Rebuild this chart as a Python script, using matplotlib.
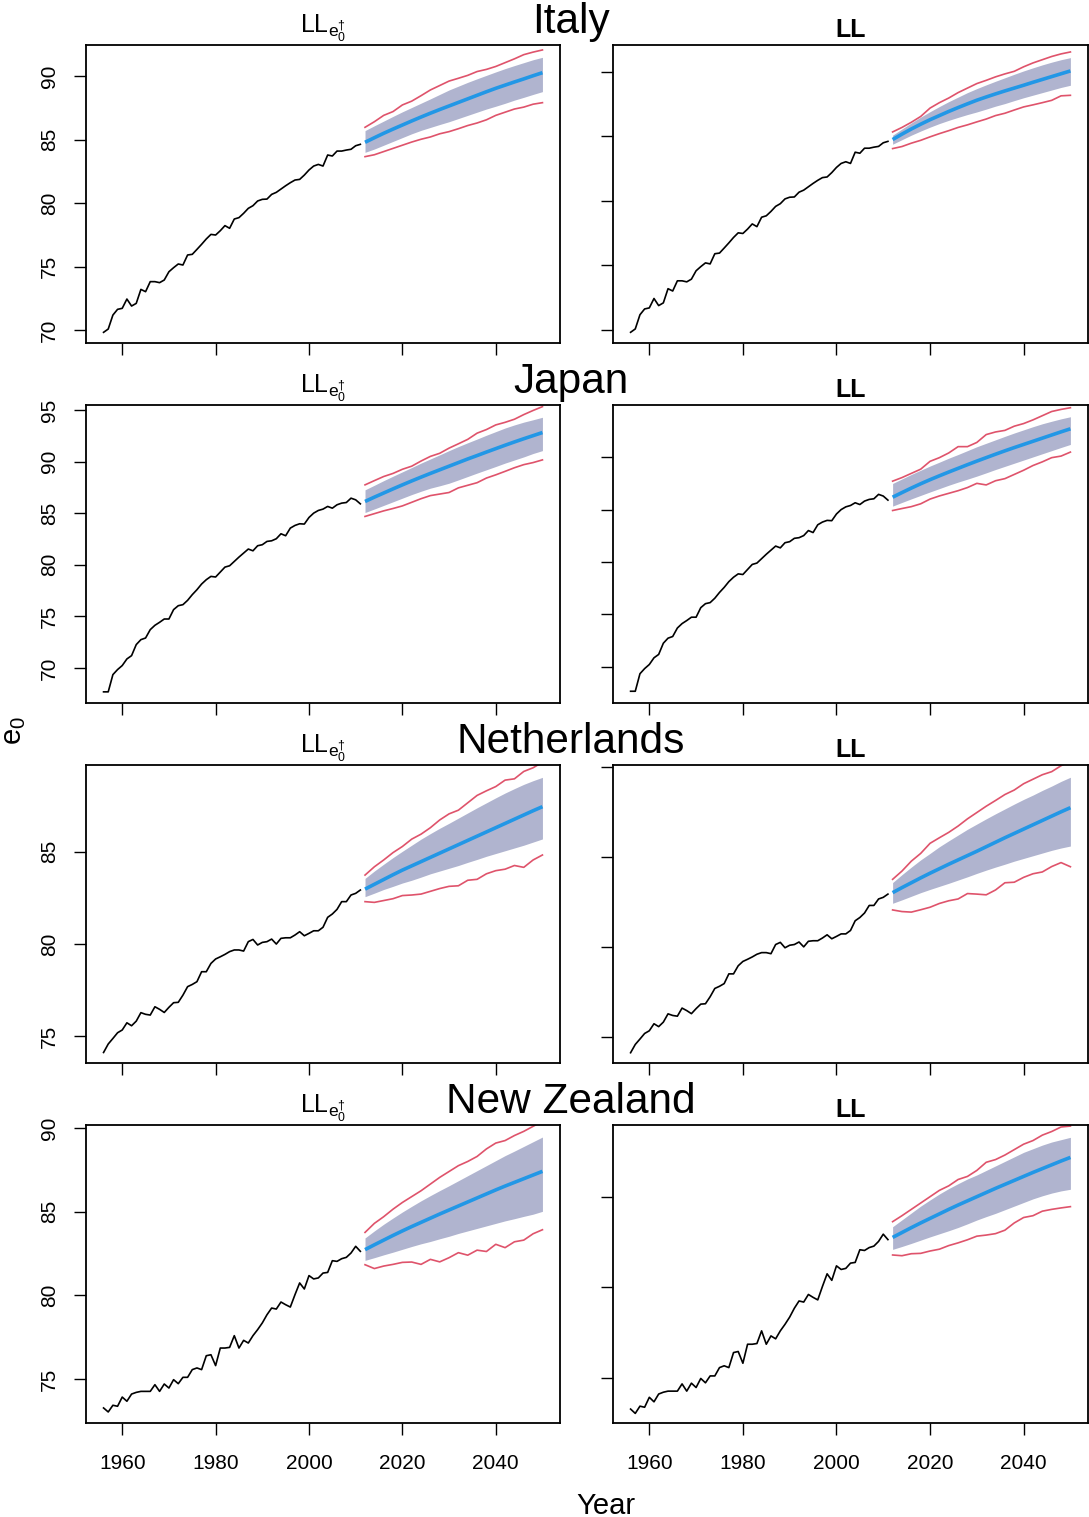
import matplotlib
matplotlib.use('Agg')
from matplotlib import pyplot as plt

plt.rcParams['font.family'] = ['Liberation Sans', 'DejaVu Sans']
plt.rcParams['mathtext.default'] = 'regular'

# observed female e0, 1956-2011
hist_years = list(range(1956, 2012))
# forecast years (every 2nd year)
fc_years = list(range(2012, 2051, 2))

italy_hist = [69.82, 70.08, 71.18, 71.63, 71.71, 72.44, 71.89, 72.10, 73.20, 73.02,
              73.81, 73.81, 73.73, 73.94, 74.59, 74.91, 75.20, 75.12, 75.91, 75.96,
              76.35, 76.75, 77.17, 77.53, 77.48, 77.82, 78.22, 78.01, 78.74, 78.85,
              79.19, 79.58, 79.79, 80.16, 80.29, 80.31, 80.68, 80.84, 81.10, 81.36,
              81.60, 81.81, 81.86, 82.20, 82.60, 82.91, 83.04, 82.91, 83.78, 83.70,
              84.09, 84.09, 84.17, 84.23, 84.51, 84.62]
japan_hist = [67.68, 67.68, 69.35, 69.84, 70.23, 70.87, 71.19, 72.26, 72.74, 72.90,
              73.71, 74.13, 74.42, 74.74, 74.74, 75.65, 76.03, 76.13, 76.55, 77.10,
              77.58, 78.13, 78.55, 78.87, 78.81, 79.29, 79.77, 79.90, 80.32, 80.74,
              81.13, 81.52, 81.35, 81.84, 81.94, 82.26, 82.32, 82.52, 83.00, 82.81,
              83.55, 83.81, 83.97, 83.94, 84.58, 85.00, 85.26, 85.39, 85.65, 85.48,
              85.81, 85.97, 86.03, 86.45, 86.29, 85.90]
nl_hist = [74.11, 74.57, 74.87, 75.18, 75.33, 75.72, 75.56, 75.81, 76.27, 76.18,
           76.14, 76.59, 76.45, 76.28, 76.56, 76.81, 76.83, 77.22, 77.68, 77.80,
           77.95, 78.49, 78.49, 78.94, 79.18, 79.30, 79.43, 79.58, 79.67, 79.67,
           79.61, 80.12, 80.24, 79.94, 80.08, 80.12, 80.26, 79.99, 80.30, 80.33,
           80.33, 80.48, 80.66, 80.44, 80.57, 80.71, 80.71, 80.90, 81.44, 81.62,
           81.87, 82.29, 82.29, 82.65, 82.74, 82.92]
nz_hist = [73.27, 73.03, 73.43, 73.37, 73.92, 73.67, 74.10, 74.20, 74.26, 74.26,
           74.26, 74.66, 74.26, 74.70, 74.46, 74.96, 74.72, 75.10, 75.10, 75.56,
           75.66, 75.56, 76.39, 76.45, 75.80, 76.85, 76.85, 76.89, 77.59, 76.85,
           77.31, 77.15, 77.59, 77.95, 78.35, 78.84, 79.24, 79.18, 79.60, 79.44,
           79.30, 80.04, 80.74, 80.38, 81.18, 80.98, 81.04, 81.33, 81.37, 82.07,
           82.03, 82.19, 82.27, 82.53, 82.93, 82.63]

# Italy, LL e0-dagger
it_dag_mean = [84.78, 85.14, 85.49, 85.82, 86.14, 86.46, 86.77, 87.07, 87.36, 87.64,
               87.92, 88.20, 88.48, 88.76, 89.03, 89.28, 89.53, 89.77, 90.02, 90.26]
it_dag_lo = [83.99, 84.25, 84.55, 84.85, 85.15, 85.45, 85.72, 85.95, 86.18, 86.40,
             86.65, 86.90, 87.15, 87.40, 87.62, 87.85, 88.10, 88.32, 88.55, 88.77]
it_dag_hi = [85.70, 86.08, 86.45, 86.82, 87.18, 87.52, 87.86, 88.20, 88.55, 88.90,
             89.20, 89.50, 89.78, 90.05, 90.32, 90.58, 90.82, 91.05, 91.28, 91.47]
it_dag_lo95 = [83.65, 83.80, 84.05, 84.30, 84.55, 84.80, 85.02, 85.20, 85.45, 85.62,
               85.85, 86.10, 86.30, 86.55, 86.90, 87.15, 87.40, 87.55, 87.78, 87.90]
it_dag_hi95 = [85.96, 86.40, 86.90, 87.20, 87.72, 88.02, 88.45, 88.90, 89.25, 89.60,
               89.82, 90.05, 90.35, 90.52, 90.75, 91.05, 91.35, 91.68, 91.88, 92.05]
# Italy, LL
it_ll_mean = [84.76, 85.18, 85.58, 85.95, 86.30, 86.62, 86.94, 87.24, 87.53, 87.81,
              88.06, 88.30, 88.53, 88.75, 88.97, 89.20, 89.42, 89.64, 89.86, 90.08]
it_ll_lo = [84.40, 84.75, 85.10, 85.42, 85.72, 86.00, 86.25, 86.48, 86.70, 86.90,
            87.12, 87.35, 87.55, 87.78, 88.00, 88.20, 88.40, 88.60, 88.80, 88.97]
it_ll_hi = [85.10, 85.58, 86.05, 86.50, 86.92, 87.32, 87.70, 88.05, 88.40, 88.71,
            89.00, 89.28, 89.55, 89.82, 90.08, 90.32, 90.55, 90.76, 90.95, 91.11]
it_ll_lo95 = [84.06, 84.22, 84.48, 84.70, 84.97, 85.22, 85.45, 85.70, 85.90, 86.13,
              86.35, 86.62, 86.80, 87.05, 87.29, 87.45, 87.62, 87.80, 88.15, 88.19]
it_ll_hi95 = [85.35, 85.70, 86.10, 86.55, 87.20, 87.62, 87.98, 88.40, 88.75, 89.10,
              89.35, 89.62, 89.85, 90.05, 90.40, 90.70, 90.95, 91.20, 91.40, 91.55]

# Japan, LL e0-dagger
jp_dag_mean = [86.13, 86.55, 86.95, 87.35, 87.74, 88.12, 88.49, 88.85, 89.20, 89.55,
               89.90, 90.25, 90.58, 90.92, 91.25, 91.58, 91.90, 92.21, 92.51, 92.81]
jp_dag_lo = [85.06, 85.40, 85.75, 86.10, 86.45, 86.80, 87.12, 87.42, 87.65, 87.90,
             88.22, 88.55, 88.88, 89.20, 89.52, 89.85, 90.15, 90.45, 90.78, 91.06]
jp_dag_hi = [87.26, 87.70, 88.15, 88.58, 89.00, 89.42, 89.85, 90.25, 90.65, 91.06,
             91.45, 91.82, 92.18, 92.55, 92.90, 93.25, 93.55, 93.82, 94.05, 94.29]
jp_dag_lo95 = [84.68, 84.95, 85.22, 85.45, 85.70, 86.05, 86.40, 86.70, 86.85, 87.00,
               87.45, 87.70, 87.95, 88.40, 88.71, 89.05, 89.40, 89.70, 89.90, 90.16]
jp_dag_hi95 = [87.74, 88.15, 88.55, 88.85, 89.25, 89.55, 90.05, 90.50, 90.80, 91.30,
               91.72, 92.15, 92.75, 93.10, 93.55, 93.80, 94.10, 94.55, 94.95, 95.32]
# Japan, LL
jp_ll_mean = [86.18, 86.62, 87.05, 87.46, 87.85, 88.22, 88.58, 88.93, 89.28, 89.62,
              89.95, 90.28, 90.60, 90.91, 91.21, 91.51, 91.81, 92.11, 92.41, 92.70]
jp_ll_lo = [85.33, 85.68, 86.02, 86.35, 86.68, 87.00, 87.32, 87.62, 87.90, 88.19,
            88.50, 88.82, 89.12, 89.42, 89.72, 90.02, 90.32, 90.62, 90.92, 91.21]
jp_ll_hi = [87.49, 87.92, 88.35, 88.75, 89.15, 89.52, 89.90, 90.25, 90.62, 90.99,
            91.32, 91.65, 91.98, 92.30, 92.60, 92.90, 93.18, 93.42, 93.65, 93.85]
jp_ll_lo95 = [84.91, 85.10, 85.28, 85.55, 86.00, 86.30, 86.55, 86.80, 87.10, 87.50,
              87.35, 87.75, 87.95, 88.35, 88.75, 89.20, 89.55, 89.95, 90.10, 90.48]
jp_ll_hi95 = [87.71, 88.05, 88.45, 88.85, 89.60, 89.95, 90.40, 91.00, 91.00, 91.40,
              92.15, 92.40, 92.55, 92.95, 93.20, 93.55, 93.95, 94.35, 94.55, 94.71]

# Netherlands, LL e0-dagger
nl_dag_mean = [82.97, 83.23, 83.49, 83.75, 84.00, 84.23, 84.46, 84.69, 84.92, 85.15,
               85.38, 85.61, 85.84, 86.07, 86.30, 86.53, 86.76, 86.99, 87.22, 87.44]
nl_dag_lo = [82.56, 82.75, 82.95, 83.12, 83.30, 83.45, 83.62, 83.80, 83.95, 84.10,
             84.25, 84.42, 84.58, 84.75, 84.90, 85.05, 85.20, 85.35, 85.52, 85.69]
nl_dag_hi = [83.55, 83.95, 84.32, 84.68, 85.02, 85.35, 85.68, 85.98, 86.27, 86.54,
             86.82, 87.10, 87.38, 87.65, 87.92, 88.18, 88.42, 88.65, 88.85, 89.03]
nl_dag_lo95 = [82.29, 82.25, 82.35, 82.45, 82.62, 82.65, 82.70, 82.85, 83.00, 83.12,
               83.15, 83.45, 83.50, 83.80, 83.97, 84.05, 84.25, 84.15, 84.55, 84.82]
nl_dag_hi95 = [83.73, 84.18, 84.55, 84.95, 85.28, 85.68, 85.95, 86.30, 86.72, 87.05,
               87.25, 87.65, 88.05, 88.30, 88.53, 88.88, 88.95, 89.35, 89.55, 89.85]
# Netherlands, LL
nl_ll_mean = [83.00, 83.28, 83.55, 83.82, 84.08, 84.33, 84.58, 84.82, 85.06, 85.30,
              85.55, 85.80, 86.05, 86.29, 86.53, 86.77, 87.01, 87.25, 87.49, 87.72]
nl_ll_lo = [82.41, 82.60, 82.80, 83.00, 83.18, 83.35, 83.52, 83.70, 83.88, 84.07,
            84.25, 84.42, 84.58, 84.75, 84.90, 85.05, 85.20, 85.35, 85.48, 85.59]
nl_ll_hi = [83.56, 84.00, 84.42, 84.82, 85.18, 85.55, 85.88, 86.20, 86.52, 86.81,
            87.10, 87.38, 87.65, 87.92, 88.18, 88.42, 88.68, 88.92, 89.18, 89.41]
nl_ll_lo95 = [82.04, 81.95, 81.92, 82.05, 82.19, 82.40, 82.55, 82.65, 82.95, 82.92,
              82.88, 83.15, 83.55, 83.58, 83.85, 84.05, 84.15, 84.45, 84.67, 84.44]
nl_ll_hi95 = [83.74, 84.20, 84.75, 85.18, 85.74, 86.05, 86.35, 86.70, 87.10, 87.45,
              87.80, 88.12, 88.45, 88.70, 89.05, 89.30, 89.55, 89.72, 90.05, 90.30]

# New Zealand, LL e0-dagger
nz_dag_mean = [82.73, 83.02, 83.30, 83.58, 83.85, 84.11, 84.36, 84.61, 84.86, 85.10,
               85.34, 85.58, 85.82, 86.06, 86.30, 86.53, 86.75, 86.97, 87.19, 87.41]
nz_dag_lo = [82.09, 82.25, 82.42, 82.58, 82.75, 82.92, 83.08, 83.22, 83.38, 83.53,
             83.70, 83.85, 84.00, 84.15, 84.30, 84.45, 84.58, 84.72, 84.85, 85.02]
nz_dag_hi = [83.43, 83.85, 84.25, 84.62, 84.98, 85.32, 85.65, 85.96, 86.26, 86.55,
             86.85, 87.15, 87.45, 87.75, 88.05, 88.35, 88.62, 88.90, 89.18, 89.46]
nz_dag_lo95 = [81.83, 81.60, 81.75, 81.85, 81.97, 81.99, 81.85, 82.15, 82.00, 82.25,
               82.55, 82.40, 82.70, 82.62, 83.05, 82.85, 83.20, 83.30, 83.68, 83.92]
nz_dag_hi95 = [83.76, 84.30, 84.70, 85.15, 85.55, 85.90, 86.25, 86.65, 87.05, 87.40,
               87.75, 88.00, 88.30, 88.75, 89.10, 89.25, 89.55, 89.80, 90.10, 90.40]
# New Zealand, LL
nz_ll_mean = [82.75, 83.02, 83.29, 83.55, 83.80, 84.05, 84.30, 84.54, 84.77, 85.00,
              85.23, 85.46, 85.68, 85.90, 86.12, 86.34, 86.55, 86.76, 86.97, 87.17]
nz_ll_lo = [82.09, 82.25, 82.42, 82.60, 82.78, 82.95, 83.12, 83.30, 83.50, 83.71,
            83.90, 84.08, 84.28, 84.48, 84.68, 84.88, 85.05, 85.20, 85.32, 85.41]
nz_ll_hi = [83.34, 83.72, 84.10, 84.48, 84.82, 85.15, 85.45, 85.72, 85.98, 86.20,
            86.45, 86.70, 86.95, 87.20, 87.45, 87.65, 87.85, 88.02, 88.15, 88.28]
nz_ll_lo95 = [81.78, 81.74, 81.85, 81.87, 82.00, 82.10, 82.30, 82.45, 82.62, 82.82,
              82.88, 82.96, 83.15, 83.55, 83.85, 83.95, 84.20, 84.30, 84.38, 84.45]
nz_ll_hi95 = [83.62, 83.95, 84.30, 84.65, 85.00, 85.35, 85.60, 85.95, 86.12, 86.45,
              86.90, 87.05, 87.30, 87.60, 87.90, 88.10, 88.40, 88.60, 88.85, 88.90]

countries = ['Italy', 'Japan', 'Netherlands', 'New Zealand']
histories = [italy_hist, japan_hist, nl_hist, nz_hist]
forecasts = [
    [(it_dag_mean, it_dag_lo, it_dag_hi, it_dag_lo95, it_dag_hi95),
     (it_ll_mean, it_ll_lo, it_ll_hi, it_ll_lo95, it_ll_hi95)],
    [(jp_dag_mean, jp_dag_lo, jp_dag_hi, jp_dag_lo95, jp_dag_hi95),
     (jp_ll_mean, jp_ll_lo, jp_ll_hi, jp_ll_lo95, jp_ll_hi95)],
    [(nl_dag_mean, nl_dag_lo, nl_dag_hi, nl_dag_lo95, nl_dag_hi95),
     (nl_ll_mean, nl_ll_lo, nl_ll_hi, nl_ll_lo95, nl_ll_hi95)],
    [(nz_dag_mean, nz_dag_lo, nz_dag_hi, nz_dag_lo95, nz_dag_hi95),
     (nz_ll_mean, nz_ll_lo, nz_ll_hi, nz_ll_lo95, nz_ll_hi95)],
]
ylims = [[(68.98, 92.44), (68.99, 92.09)],
         [(66.6, 95.48), (66.56, 94.97)],
         [(73.54, 89.70), (73.54, 90.09)],
         [(72.37, 90.18), (72.5, 88.96)]]
yticks = [[[70, 75, 80, 85, 90], [70, 75, 80, 85, 90]],
          [[70, 75, 80, 85, 90, 95], [70, 75, 80, 85, 90]],
          [[75, 80, 85], [75, 80, 85, 90]],
          [[75, 80, 85, 90], [75, 80, 85]]]
xticks = [1960, 1980, 2000, 2020, 2040]
subtitles = [r'LL$_{e_0^{\dagger}}$', 'LL']

band_col = '#B0B4CF'
red_col = '#DF536B'
blue_col = '#2297E6'

W, H = 1089, 1517
fig = plt.figure(figsize=(W / 100, H / 100), dpi=100)

col_x = [(86, 560), (613, 1088)]
row_y = [(45, 343), (405, 703), (765, 1063), (1125, 1423)]

for r in range(4):
    for c in range(2):
        x0, x1 = col_x[c]
        y0, y1 = row_y[r]
        ax = fig.add_axes([x0 / W, 1 - y1 / H, (x1 - x0) / W, (y1 - y0) / H])
        mean, lo, hi, lo95, hi95 = forecasts[r][c]
        ax.fill_between(fc_years, lo, hi, color=band_col, lw=0)
        ax.plot(fc_years, lo95, color=red_col, lw=1.2)
        ax.plot(fc_years, hi95, color=red_col, lw=1.2)
        ax.plot(fc_years, mean, color=blue_col, lw=2.6, solid_capstyle='butt')
        ax.plot(hist_years, histories[r], color='black', lw=1.2)

        ax.set_xlim(1952.24, 2053.76)
        ax.set_ylim(*ylims[r][c])
        ax.set_xticks(xticks)
        ax.set_yticks(yticks[r][c])
        ax.tick_params(direction='out', length=8.5, width=1.0, labelsize=15)
        ax.tick_params(axis='x', pad=14, labelbottom=(r == 3))
        ax.tick_params(axis='y', pad=11, labelleft=(c == 0))
        if c == 0:
            for lab in ax.get_yticklabels():
                lab.set_rotation(90)
                lab.set_va('center')
        for s in ax.spines.values():
            s.set_linewidth(1.3)

        cx = (x0 + x1) / 2
        if c == 0:
            fig.text(cx / W, 1 - (y0 - 12) / H, subtitles[0], ha='center',
                     va='baseline', fontsize=18)
        else:
            fig.text(cx / W, 1 - (y0 - 8) / H, subtitles[1], ha='center',
                     va='baseline', fontsize=18, fontweight='bold')

    fig.text(570.5 / W, 1 - (row_y[r][0] - 12) / H, countries[r], ha='center',
             va='baseline', fontsize=30.5)

fig.text(606 / W, 1 - 1514 / H, 'Year', ha='center', va='baseline', fontsize=21)
fig.text(14 / W, 1 - 731 / H, r'e$_0$', ha='center', va='center',
         rotation=90, fontsize=21)

fig.savefig('out.png', dpi=100)
